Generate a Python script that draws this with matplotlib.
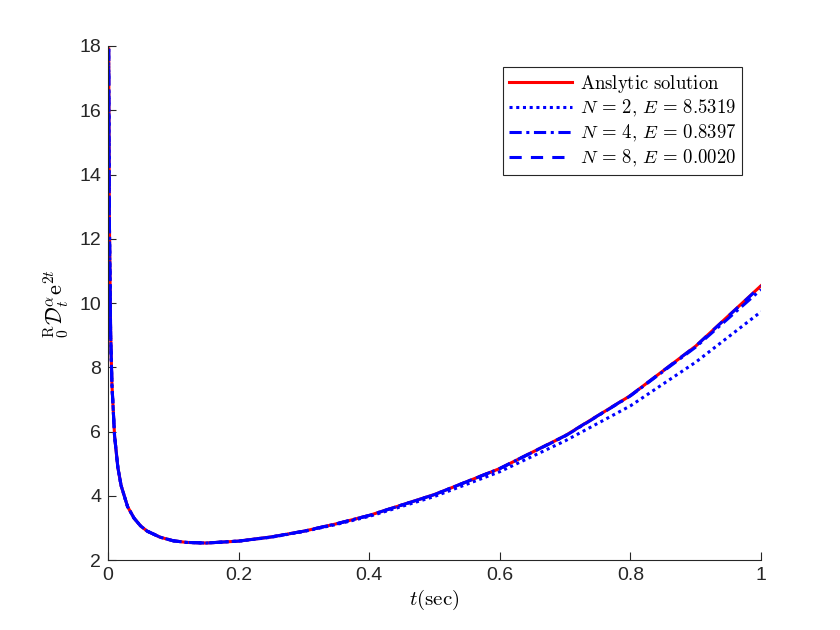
import matplotlib
matplotlib.use("Agg")
import matplotlib.pyplot as plt

# values
t = [0.001, 0.002, 0.004, 0.006, 0.01, 0.015, 0.02, 0.03, 0.04, 0.05, 0.06,
     0.08, 0.1, 0.12, 0.15, 0.2, 0.25, 0.3, 0.35, 0.4, 0.5, 0.6, 0.7, 0.8,
     0.9, 1.0]
exact = [17.91, 12.72, 9.06, 7.46, 5.87, 4.89, 4.32, 3.66, 3.30, 3.06, 2.90,
         2.71, 2.60, 2.55, 2.53, 2.59, 2.72, 2.90, 3.13, 3.39, 4.04, 4.85,
         5.87, 7.12, 8.66, 10.54]
n2 = [17.91, 12.72, 9.06, 7.46, 5.87, 4.89, 4.32, 3.66, 3.30, 3.06, 2.90,
      2.71, 2.60, 2.55, 2.53, 2.59, 2.71, 2.89, 3.11, 3.36, 3.98, 4.75,
      5.71, 6.80, 8.16, 9.73]
n4 = [17.91, 12.72, 9.06, 7.46, 5.87, 4.89, 4.32, 3.66, 3.30, 3.06, 2.90,
      2.71, 2.60, 2.55, 2.53, 2.59, 2.72, 2.90, 3.13, 3.39, 4.04, 4.85,
      5.86, 7.11, 8.63, 10.42]
n8 = [17.91, 12.72, 9.06, 7.46, 5.87, 4.89, 4.32, 3.66, 3.30, 3.06, 2.90,
      2.71, 2.60, 2.55, 2.53, 2.59, 2.72, 2.90, 3.13, 3.39, 4.04, 4.85,
      5.87, 7.12, 8.66, 10.53]
labels = [r"$\mathrm{Anslytic\ solution}$",
          r"$N\,=\,2,\,E\,=\,8.5319$",
          r"$N\,=\,4,\,E\,=\,0.8397$",
          r"$N\,=\,8,\,E\,=\,0.0020$"]

plt.rcParams["mathtext.fontset"] = "cm"
plt.rcParams["font.family"] = ["Liberation Sans", "DejaVu Sans"]

fig = plt.figure(figsize=(8.4, 6.3), dpi=100)
ax = fig.add_axes([0.1286, 0.111, 0.7774, 0.816])

ax.plot(t, exact, color="red", lw=2.2, label=labels[0])
ax.plot(t, n2, color="blue", lw=2.2, ls=(0, (1, 1.2)), label=labels[1])
ax.plot(t, n4, color="blue", lw=2.2, ls=(0, (4, 1.5, 1, 1.5)), label=labels[2])
ax.plot(t, n8, color="blue", lw=2.2, ls=(0, (4, 3)), label=labels[3])

ax.set_xlim(0, 1)
ax.set_ylim(2, 18)
ax.set_xticks([0, 0.2, 0.4, 0.6, 0.8, 1])
ax.set_xticklabels(["0", "0.2", "0.4", "0.6", "0.8", "1"])
ax.set_yticks(range(2, 19, 2))
ax.tick_params(direction="in", length=6, width=0.8, labelsize=14,
               colors="#262626", pad=5)
for s in ["top", "right"]:
    ax.spines[s].set_visible(False)
for s in ["left", "bottom"]:
    ax.spines[s].set_color("#262626")

ax.set_xlabel(r"$t(\mathrm{sec})$", fontsize=15, labelpad=3)
ax.set_ylabel(r"${}^{\mathrm{R}}_{0}\mathcal{D}^{\alpha}_{t}\mathrm{e}^{2t}$", fontsize=16,
              labelpad=6)

leg = ax.legend(loc="upper right", bbox_to_anchor=(0.971, 0.959), fontsize=13.5,
                borderaxespad=0, fancybox=False, edgecolor="#262626",
                framealpha=1, handlelength=3.4, borderpad=0.3,
                labelspacing=0.2, handletextpad=0.4)
leg.get_frame().set_linewidth(0.8)

fig.savefig("out.png", dpi=100)
